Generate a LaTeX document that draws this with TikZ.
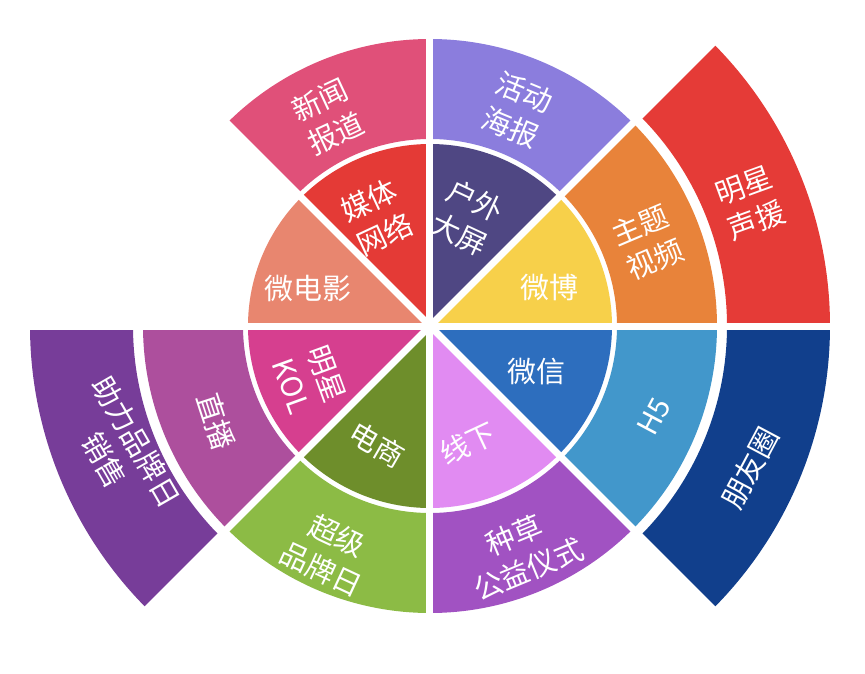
\documentclass[tikz,border=0pt]{standalone}
\usepackage{fontspec}
\usepackage{tikz}
\newfontfamily\cjk{Noto Sans CJK SC}

\definecolor{weibo}{HTML}{F7D04A}
\definecolor{zhuti}{HTML}{E8833A}
\definecolor{mingxing}{HTML}{E53B37}
\definecolor{huwai}{HTML}{4F4783}
\definecolor{huodong}{HTML}{8B7DDD}
\definecolor{meiti}{HTML}{E43A36}
\definecolor{xinwen}{HTML}{E05079}
\definecolor{weidianying}{HTML}{E8866F}
\definecolor{kol}{HTML}{D63F8F}
\definecolor{zhibo}{HTML}{AD4F9D}
\definecolor{zhuli}{HTML}{773D99}
\definecolor{dianshang}{HTML}{6E8E2B}
\definecolor{chaoji}{HTML}{8CBB45}
\definecolor{xianxia}{HTML}{E18BF2}
\definecolor{zhongcao}{HTML}{A152C2}
\definecolor{weixin}{HTML}{2D6EBE}
\definecolor{hfive}{HTML}{4297CB}
\definecolor{pengyou}{HTML}{113F8C}

% ring piece: colour, start angle, end angle, inner radius, outer radius
\newcommand{\ringpart}[5]{%
  \fill[#1] (#2:#4) -- (#2:#5) arc[start angle=#2, end angle=#3, radius=#5]
    -- (#3:#4) arc[start angle=#3, end angle=#2, radius=#4] -- cycle;}

\begin{document}
\begin{tikzpicture}[x=1pt,y=1pt,
            seg label/.style={text=white,align=center,font=\cjk\fontsize{29}{37}\selectfont},
            gap line/.style={white,line width=7pt},
            ]
            \useasboundingbox (-430,-347) rectangle (435,326);

            % inner ring
            \fill[weibo] (0,0) -- (0:182) arc[start angle=0, end angle=45, radius=182] -- cycle;
            \fill[huwai] (0,0) -- (45:182) arc[start angle=45, end angle=90, radius=182] -- cycle;
            \fill[meiti] (0,0) -- (90:182) arc[start angle=90, end angle=135, radius=182] -- cycle;
            \fill[weidianying] (0,0) -- (135:182) arc[start angle=135, end angle=180, radius=182] -- cycle;
            \fill[kol] (0,0) -- (180:182) arc[start angle=180, end angle=225, radius=182] -- cycle;
            \fill[dianshang] (0,0) -- (225:182) arc[start angle=225, end angle=270, radius=182] -- cycle;
            \fill[xianxia] (0,0) -- (270:182) arc[start angle=270, end angle=315, radius=182] -- cycle;
            \fill[weixin] (0,0) -- (315:182) arc[start angle=315, end angle=360, radius=182] -- cycle;

            % middle ring
            \ringpart{zhuti}{0}{45}{187}{287}
            \ringpart{huodong}{45}{90}{187}{287}
            \ringpart{xinwen}{90}{135}{187}{287}
            \ringpart{zhibo}{180}{225}{187}{287}
            \ringpart{chaoji}{225}{270}{187}{287}
            \ringpart{zhongcao}{270}{315}{187}{287}
            \ringpart{hfive}{315}{360}{187}{287}

            % outer ring
            \ringpart{mingxing}{0}{45}{297}{400}
            \ringpart{zhuli}{180}{225}{297}{400}
            \ringpart{pengyou}{315}{360}{297}{400}

            \foreach \a in {0,45,...,315}
                \draw[gap line] (0,0) -- (\a:405);

            \node[seg label] (weibo) at (18:126) {微博};
            \node[seg label, rotate=-25] (huwai) at (71:115) {户外\\大屏};
            \node[seg label, rotate=25] (meiti) at (116:121) {媒体\\网络};
            \node[seg label] (weidianying) at (163:128) {微电影};
            \node[seg label, rotate=-70] (kol) at (204:132) {明星\\KOL};
            \node[seg label, rotate=-30] (dianshang) at (246:130) {电商};
            \node[seg label, rotate=25] (xianxia) at (288:123) {线下};
            \node[seg label] (weixin) at (337:116) {微信};

            \node[seg label, rotate=23] (zhuti) at (21:233) {主题\\视频};
            \node[seg label, rotate=-22.5] (huodong) at (68:233) {活动\\海报};
            \node[seg label, rotate=25] (xinwen) at (116:233) {新闻\\报道};
            \node[seg label, rotate=-72] (zhibo) at (204:234) {直播};
            \node[seg label, rotate=-25] (chaoji) at (246:248) {超级\\品牌日};
            \node[seg label, rotate=22.5] (zhongcao) at (292:244) {种草\\公益仪式};
            \node[seg label, rotate=62] (hfive) at (338:242) {H5};

            \node[seg label, rotate=20] (mingxing) at (21:343) {明星\\声援};
            \node[seg label, rotate=-60] (zhuli) at (202:334) {助力品牌日\\销售};
            \node[seg label, rotate=62] (pengyou) at (336:350) {朋友圈};
        \end{tikzpicture}
\end{document}
